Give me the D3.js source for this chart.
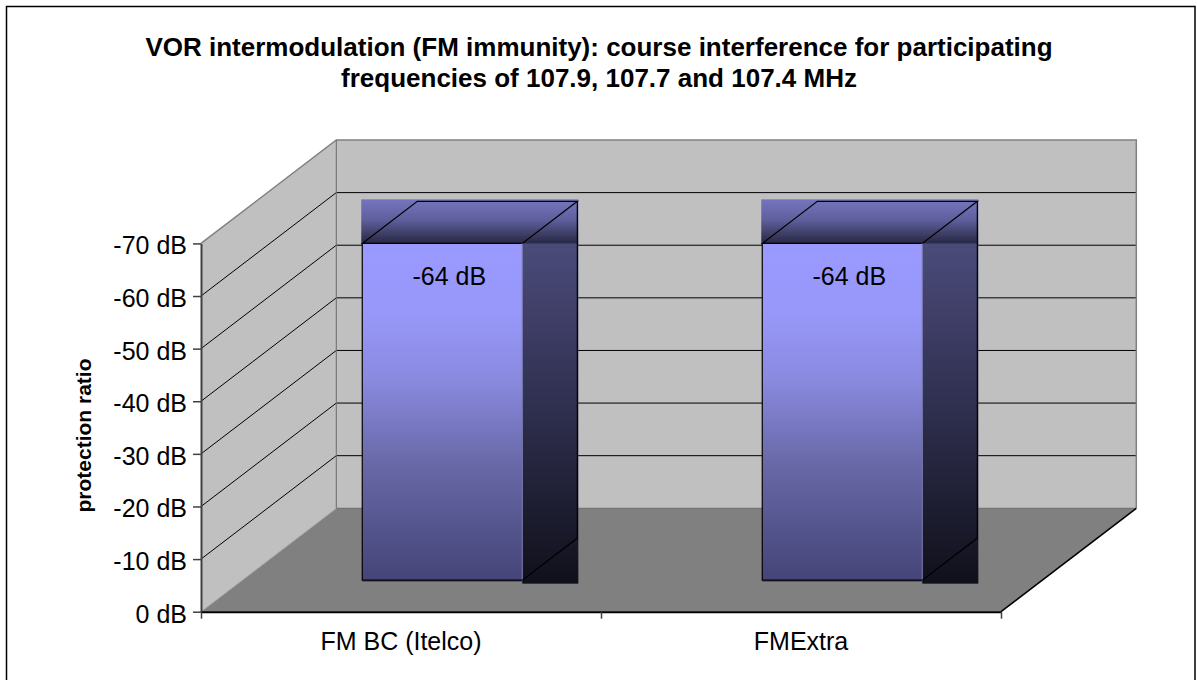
<!DOCTYPE html>
<html>
<head>
<meta charset="utf-8">
<script src="https://cdn.jsdelivr.net/npm/d3@7"></script>
<style>
  html, body { margin: 0; padding: 0; background: #fff; }
  svg { display: block; font-family: "Liberation Sans", Arial, sans-serif; }
</style>
</head>
<body>
<svg id="chart" width="1197" height="680"></svg>
<script>
// ---- data ----
const titleLines = ["VOR intermodulation (FM immunity): course interference for participating",
                    "frequencies of 107.9, 107.7 and 107.4 MHz"];
const categories = ["FM BC (Itelco)", "FMExtra"];
const values = [-64, -64];
const valueLabels = ["-64 dB", "-64 dB"];
const yTickValues = [0, -10, -20, -30, -40, -50, -60, -70];
const yAxisTitle = "protection ratio";

// ---- layout ----
const svg = d3.select("#chart");
const W = 1197, H = 680;
const X0 = 201, X1 = 1001;            // front floor edge
const DX = 135.3, DY = -103.4;         // depth projection
const Z1 = 0.305, Z2 = 0.712;          // bar depth range

const y = d3.scaleLinear().domain([0, -70]).range([611.7, 243.4]);
const x = d3.scaleBand().domain(categories).range([X0, X1]).paddingInner(0.6).paddingOuter(0.3);
const xEdge = d3.scaleLinear().domain([0, categories.length]).range([X0, X1]);
const P = (px, v, z) => [px + DX * z, y(v) + DY * z];

// outer border
svg.append("rect").attr("x", 6.5).attr("y", 6.5).attr("width", 1188.5).attr("height", 690)
  .attr("fill", "#fff").attr("stroke", "#000").attr("stroke-width", 1.5);

// title
svg.append("g").selectAll("text").data(titleLines).join("text")
  .attr("x", 599).attr("y", (d, i) => 56 + i * 31)
  .attr("text-anchor", "middle").attr("font-weight", "bold").attr("font-size", 26)
  .attr("fill", "#000").text(d => d);

// defs / gradients
const defs = svg.append("defs");
function grad(id, stops) {
  const g = defs.append("linearGradient").attr("id", id)
    .attr("x1", 0).attr("y1", 0).attr("x2", 0).attr("y2", 1);
  stops.forEach(s => g.append("stop").attr("offset", s[0]).attr("stop-color", s[1]));
}
grad("gTop", [[0, "#7575bd"], [0.45, "#5f5f9e"], [1, "#25253e"]]);
grad("gFront", [[0, "#9999ff"], [0.2, "#9898fa"], [0.4, "#8a8ae0"], [0.64, "#6a6aaa"], [1, "#444477"]]);
grad("gSide", [[0, "#4b4b7b"], [0.5, "#2e2e4e"], [1, "#10101b"]]);

const vTop = -70;
const line = d3.line();

// back wall
const bw0 = P(X0, 0, 1), bwT = P(X0, vTop, 1), bwR = P(X1, vTop, 1), bwRB = P(X1, 0, 1);
svg.append("path")
  .attr("d", line([bwT, bwR, bwRB, bw0]) + "Z")
  .attr("fill", "#c0c0c0").attr("stroke", "none");
// side wall
svg.append("path")
  .attr("d", line([P(X0, 0, 0), P(X0, vTop, 0), bwT, bw0]) + "Z")
  .attr("fill", "#c0c0c0").attr("stroke", "none");
// floor
svg.append("path")
  .attr("d", line([P(X0, 0, 0), bw0, bwRB, P(X1, 0, 0)]) + "Z")
  .attr("fill", "#808080").attr("stroke", "none");

// gridlines
const grid = yTickValues.filter(v => v !== 0 && v !== vTop);
svg.append("g").selectAll("path").data(grid).join("path")
  .attr("d", v => line([P(X0, v, 0), P(X0, v, 1), P(X1, v, 1)]))
  .attr("fill", "none").attr("stroke", "#000").attr("stroke-width", 1);
// wall edges
svg.append("path").attr("d", line([P(X0, vTop, 0), bwT, bwR, bwRB]))
  .attr("fill", "none").attr("stroke", "#808080").attr("stroke-width", 1.5);
svg.append("path").attr("d", line([bwT, bw0, bwRB]))
  .attr("fill", "none").attr("stroke", "#6a6a6a").attr("stroke-width", 1);
svg.append("path").attr("d", line([P(X0, 0, 0), bw0]))
  .attr("fill", "none").attr("stroke", "#a8a8a8").attr("stroke-width", 1);
svg.append("path").attr("d", line([P(X1, 0, 0), bwRB]))
  .attr("fill", "none").attr("stroke", "#000").attr("stroke-width", 1.5);

// bars
const bars = svg.append("g");
categories.forEach((c, i) => {
  const v = values[i];
  const xl = x(c), w = x.bandwidth();
  const fTL = P(xl, v, Z1), fTR = P(xl + w, v, Z1), fBL = P(xl, 0, Z1), fBR = P(xl + w, 0, Z1);
  const bTL = P(xl, v, Z2), bTR = P(xl + w, v, Z2), bBR = P(xl + w, 0, Z2);
  const g = bars.append("g");
  // top band rect
  g.append("rect").attr("x", fTL[0] - 1).attr("y", bTR[1] - 2)
    .attr("width", bTR[0] - fTL[0] + 2).attr("height", fTL[1] - bTR[1] + 3)
    .attr("fill", "url(#gTop)");
  // side rect
  g.append("rect").attr("x", fTR[0]).attr("y", fTR[1])
    .attr("width", bTR[0] - fTR[0] + 1).attr("height", fBR[1] - fTR[1] + 3.5)
    .attr("fill", "url(#gSide)");
  // front face
  g.append("rect").attr("x", fTL[0]).attr("y", fTL[1])
    .attr("width", w).attr("height", fBL[1] - fTL[1] + 1.5)
    .attr("fill", "url(#gFront)");
  // outlines
  g.append("path").attr("d", line([fTL, bTL, bTR, fTR]) + "Z")
    .attr("fill", "none").attr("stroke", "#000").attr("stroke-width", 1.2);
  g.append("path").attr("d", line([fTL, fBL, fBR]))
    .attr("fill", "none").attr("stroke", "#000").attr("stroke-width", 1.2);
  g.append("path").attr("d", line([fTR, fBR]))
    .attr("fill", "none").attr("stroke", "#7a7ab2").attr("stroke-width", 1);
  g.append("path").attr("d", line([bTR, bBR, fBR]))
    .attr("fill", "none").attr("stroke", "#000").attr("stroke-width", 1.2);
  // value label
  g.append("text").attr("x", (fTL[0] + fTR[0]) / 2 + 7).attr("y", fTL[1] + 42)
    .attr("text-anchor", "middle").attr("font-size", 25).attr("fill", "#000")
    .text(valueLabels[i]);
});

// y axis
const yAxis = svg.append("g").attr("transform", `translate(${X0},0)`)
  .call(d3.axisLeft(y).tickValues(yTickValues).tickFormat(d => d + " dB")
    .tickSize(8).tickSizeOuter(0).tickPadding(6));
yAxis.select(".domain").attr("stroke", "#404040").attr("stroke-width", 2);
yAxis.selectAll(".tick line").attr("stroke", "#404040").attr("stroke-width", 1.5);
yAxis.selectAll(".tick text").attr("font-size", 25).attr("fill", "#000")
  .attr("font-family", "Liberation Sans, Arial, sans-serif").attr("dy", "0.42em");

// x axis: boundary ticks + front edge
const xTickAxis = svg.append("g").attr("transform", `translate(0,${y(0)})`)
  .call(d3.axisBottom(xEdge).tickValues(d3.range(categories.length + 1)).tickFormat("")
    .tickSize(7).tickSizeOuter(0));
xTickAxis.select(".domain").attr("stroke", "#000").attr("stroke-width", 2);
xTickAxis.selectAll(".tick line").attr("stroke", "#404040").attr("stroke-width", 1.5);

const xAxis = svg.append("g").attr("transform", `translate(0,${y(0)})`)
  .call(d3.axisBottom(x).tickSize(0).tickPadding(21));
xAxis.select(".domain").remove();
xAxis.selectAll(".tick text").attr("font-size", 25).attr("fill", "#000")
  .attr("font-family", "Liberation Sans, Arial, sans-serif");

// y axis title
svg.append("text").attr("transform", "translate(91,435.5) rotate(-90)")
  .attr("text-anchor", "middle").attr("font-weight", "bold").attr("font-size", 21)
  .attr("fill", "#000").text(yAxisTitle);
</script>
</body>
</html>
